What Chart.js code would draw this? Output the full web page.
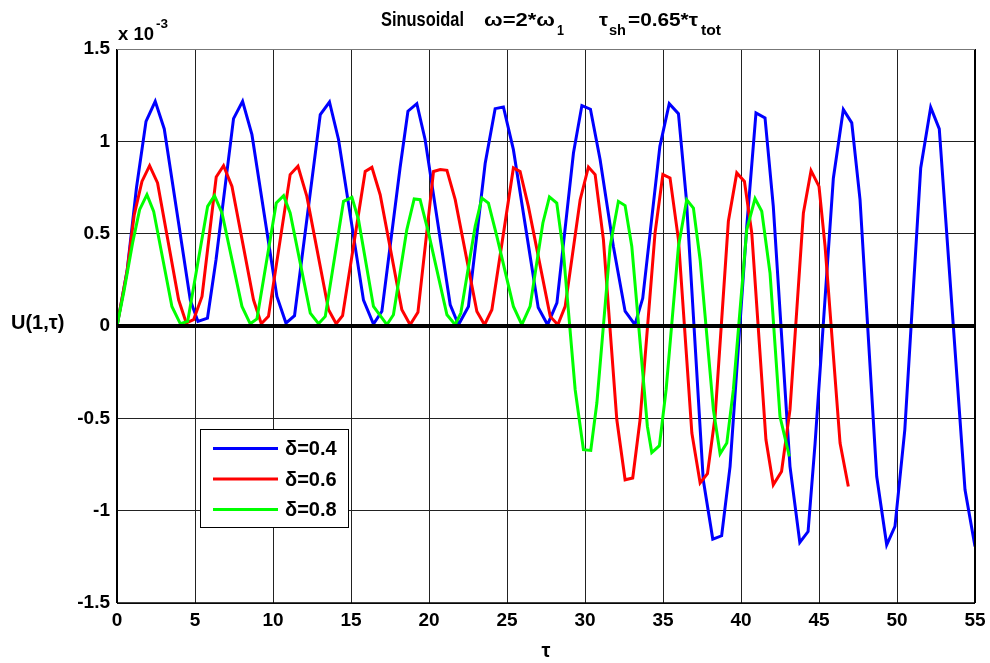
<!DOCTYPE html>
<html>
<head>
<meta charset="utf-8">
<title>Sinusoidal</title>
<script src="https://cdn.jsdelivr.net/npm/chart.js@4.4.1/dist/chart.umd.min.js"></script>
<style>
  html, body { margin: 0; padding: 0; background: #fff; }
  canvas { display: block; }
</style>
</head>
<body>
<canvas id="myChart" width="990" height="663"></canvas>
<script>
// values, U in units of 1e-3
const tauBlue = [0, 0.65, 1.25, 1.86, 2.45, 3.03, 4.7, 5.19, 5.8, 6.35, 7.47, 8.05, 8.65,
  10.25, 10.83, 11.38, 13.03, 13.62, 14.2, 15.8, 16.44, 16.98, 18.15, 18.65, 19.22, 19.75,
  21.36, 21.89, 22.53, 23.6, 24.24, 24.77, 25.41, 27.0, 27.6, 28.2, 29.26, 29.8, 30.35, 30.97,
  31.82, 32.57, 33.2, 33.7, 34.8, 35.4, 35.99, 36.5, 37.58, 38.19, 38.76, 39.3, 40.37, 40.96,
  41.54, 42.07, 43.14, 43.77, 44.3, 44.75, 45.92, 46.56, 47.1, 47.63, 48.7, 49.34, 49.87,
  50.5, 51.52, 52.16, 52.71, 54.36, 55.0];
const uBlue = [0, 0.3, 0.75, 1.108, 1.217, 1.067, 0.14, 0.025, 0.043, 0.36, 1.123, 1.217, 1.036,
  0.16, 0.016, 0.056, 1.145, 1.213, 1.01, 0.14, 0.01, 0.08, 0.86, 1.163, 1.204, 1.01,
  0.115, 0.007, 0.106, 0.88, 1.177, 1.186, 0.955, 0.1, 0.007, 0.125, 0.937, 1.194, 1.174, 0.9,
  0.43, 0.08, 0.007, 0.15, 0.973, 1.204, 1.15, 0.684, -0.833, -1.154, -1.136, -0.76, 0.54, 1.154,
  1.127, 0.648, -0.76, -1.172, -1.113, -0.634, 0.8, 1.172, 1.1, 0.684, -0.815, -1.185, -1.085,
  -0.562, 0.856, 1.184, 1.067, -0.887, -1.194];

const tauRed = [0, 0.65, 1.1, 1.6, 2.09, 2.6, 3.95, 4.44, 4.91, 5.45, 6.36, 6.83, 7.37,
  8.75, 9.25, 9.71, 11.1, 11.6, 12.17, 13.56, 14.05, 14.46, 15.91, 16.34, 16.87,
  18.26, 18.79, 19.29, 20.29, 20.72, 21.15, 21.68, 23.07, 23.56, 24.03, 25.41, 25.84, 26.37,
  27.77, 28.26, 28.73, 29.69, 30.22, 30.65, 31.18, 32.04, 32.57, 33.06, 33.53, 34.49, 34.99,
  35.45, 35.99, 36.85, 37.38, 37.85, 38.34, 39.19, 39.73, 40.22, 40.69, 41.6, 42.07, 42.6,
  43.14, 44.0, 44.49, 45.0, 45.39, 46.35, 46.88];
const uRed = [0, 0.3, 0.6, 0.783, 0.868, 0.775, 0.142, 0.016, 0.034, 0.16, 0.807, 0.868, 0.756,
  0.142, 0.012, 0.052, 0.82, 0.865, 0.702, 0.088, 0.012, 0.056, 0.837, 0.859, 0.711,
  0.088, 0.007, 0.074, 0.837, 0.847, 0.843, 0.684, 0.079, 0.007, 0.088, 0.856, 0.837, 0.648,
  0.052, 0.007, 0.106, 0.684, 0.861, 0.82, 0.468, -0.508, -0.833, -0.823, -0.508, 0.504, 0.82,
  0.802, 0.468, -0.58, -0.85, -0.8, -0.49, 0.567, 0.829, 0.783, 0.504, -0.616, -0.86, -0.788,
  -0.453, 0.612, 0.841, 0.756, 0.431, -0.634, -0.869];

const tauGreen = [0, 0.45, 1.0, 1.45, 1.92, 2.35, 3.52, 4.06, 4.53, 5.81, 6.25, 6.73,
  8.01, 8.54, 8.97, 10.21, 10.68, 11.1, 12.39, 12.92, 13.35, 14.52, 15.06, 15.48,
  16.44, 17.3, 17.72, 18.58, 19.05, 19.43, 19.97, 21.15, 21.68, 22.04, 22.96, 23.39, 23.81,
  24.35, 25.41, 25.95, 26.48, 27.3, 27.72, 28.19, 28.62, 29.37, 29.9, 30.37, 30.76, 31.61,
  32.14, 32.57, 33.0, 34.0, 34.28, 34.77, 35.2, 35.99, 36.52, 36.95, 37.38, 38.23, 38.66,
  39.09, 39.51, 40.37, 40.9, 41.33, 41.86, 42.5, 43.1];
const uGreen = [0, 0.19, 0.45, 0.63, 0.711, 0.621, 0.106, 0.012, 0.025, 0.648, 0.706, 0.612,
  0.106, 0.012, 0.038, 0.666, 0.706, 0.612, 0.07, 0.012, 0.052, 0.675, 0.697, 0.576,
  0.106, 0.007, 0.061, 0.522, 0.688, 0.684, 0.504, 0.061, 0.007, 0.07, 0.54, 0.693, 0.666,
  0.485, 0.106, 0.007, 0.106, 0.558, 0.699, 0.666, 0.395, -0.345, -0.67, -0.674, -0.417, 0.431,
  0.675, 0.652, 0.431, -0.544, -0.685, -0.648, -0.345, 0.431, 0.684, 0.639, 0.359, -0.453, -0.692,
  -0.634, -0.345, 0.522, 0.69, 0.621, 0.287, -0.49, -0.706];

const seriesLabels = ["δ=0.4", "δ=0.6", "δ=0.8"];
const seriesColors = ["#0000ff", "#ff0000", "#00ff00"];
const xRange = [0, 55];
const yRange = [-1.5, 1.5];

const FONT = "'Liberation Sans', Arial, Helvetica, sans-serif";

// pair up tau and U values
function toPoints(xs, ys) {
  return xs.map((x, i) => ({ x: x, y: ys[i] }));
}

// text squeezed or stretched to a given width (matlab text is narrow)
function fitText(ctx, text, x, y, width, size) {
  ctx.font = "bold " + size + "px " + FONT;
  let w = ctx.measureText(text).width;
  ctx.save();
  ctx.translate(x, y);
  ctx.scale(width / w, 1);
  ctx.fillText(text, 0, 0);
  ctx.restore();
}

// titles, zero line, box and legend
const decorations = {
  id: "decorations",
  afterDatasetsDraw(chart) {
    const ctx = chart.ctx, a = chart.chartArea;
    const y0 = chart.scales.y.getPixelForValue(0);
    ctx.save();
    ctx.strokeStyle = "#000";
    ctx.lineWidth = 4;
    ctx.beginPath();
    ctx.moveTo(a.left, y0);
    ctx.lineTo(a.right, y0);
    ctx.stroke();
    ctx.restore();
  },
  afterDraw(chart) {
    const ctx = chart.ctx, a = chart.chartArea;
    ctx.save();

    // axes box
    ctx.strokeStyle = "#000";
    ctx.lineWidth = 2;
    ctx.beginPath();
    ctx.moveTo(a.left, a.top); ctx.lineTo(a.left, a.bottom);
    ctx.moveTo(a.right, a.top); ctx.lineTo(a.right, a.bottom);
    ctx.stroke();
    ctx.lineWidth = 1.5;
    ctx.beginPath();
    ctx.moveTo(a.left, a.bottom); ctx.lineTo(a.right, a.bottom);
    ctx.stroke();
    ctx.strokeStyle = "#777";
    ctx.lineWidth = 1;
    ctx.beginPath();
    ctx.moveTo(a.left, a.top + 0.5); ctx.lineTo(a.right, a.top + 0.5);
    ctx.stroke();

    ctx.fillStyle = "#000";
    ctx.textBaseline = "alphabetic";
    ctx.textAlign = "left";

    // title, pieces placed like the matlab tex output
    fitText(ctx, "Sinusoidal", 381, 26, 83, 20);
    fitText(ctx, "ω=2*ω", 484, 26, 71, 19);
    fitText(ctx, "1", 557, 35, 7, 14);
    fitText(ctx, "τ", 599, 26, 9, 19);
    fitText(ctx, "sh", 609, 35, 17, 14);
    fitText(ctx, "=0.65*τ", 628, 26, 70, 19);
    fitText(ctx, "tot", 701, 35, 20, 14);

    // exponent above the y axis
    fitText(ctx, "x 10", 118, 40, 36, 18);
    fitText(ctx, "-3", 156, 28, 12, 13);

    // axis labels
    ctx.font = "bold 20px " + FONT;
    ctx.fillText("U(1,τ)", 11, 329);
    ctx.textAlign = "center";
    ctx.font = "bold 20px " + FONT;
    ctx.fillText("τ", (a.left + a.right) / 2, 657);

    // legend
    let lx = 200.5, ly = 429.5, lw = 148, lh = 98;
    ctx.fillStyle = "#fff";
    ctx.fillRect(lx, ly, lw, lh);
    ctx.strokeStyle = "#000";
    ctx.lineWidth = 1;
    ctx.strokeRect(lx, ly, lw, lh);
    ctx.textAlign = "left";
    ctx.textBaseline = "middle";
    ctx.font = "bold 20px " + FONT;
    chart.data.datasets.forEach((ds, i) => {
      let yy = 448.5 + i * 30.5;
      ctx.strokeStyle = ds.borderColor;
      ctx.lineWidth = 3;
      ctx.beginPath();
      ctx.moveTo(213, yy);
      ctx.lineTo(278, yy);
      ctx.stroke();
      ctx.fillStyle = "#000";
      ctx.fillText(ds.label, 285, yy + 1);
    });
    ctx.restore();
  }
};

let ctx = document.getElementById("myChart").getContext("2d");
let myChart = new Chart(ctx, {
  type: "line",
  data: {
    datasets: [
      { label: seriesLabels[0], data: toPoints(tauBlue, uBlue), borderColor: seriesColors[0], order: 3 },
      { label: seriesLabels[1], data: toPoints(tauRed, uRed), borderColor: seriesColors[1], order: 2 },
      { label: seriesLabels[2], data: toPoints(tauGreen, uGreen), borderColor: seriesColors[2], order: 1 }
    ]
  },
  options: {
    responsive: false,
    animation: false,
    devicePixelRatio: 1,
    layout: { padding: { left: 0, right: 15, top: 49, bottom: 0 } },
    elements: {
      line: { borderWidth: 3, tension: 0, fill: false, borderJoinStyle: "miter" },
      point: { radius: 0 }
    },
    plugins: {
      legend: { display: false },
      tooltip: { enabled: false }
    },
    scales: {
      x: {
        type: "linear",
        min: xRange[0],
        max: xRange[1],
        border: { display: false },
        grid: { color: "#222", lineWidth: 1, drawTicks: false, tickLength: 0 },
        ticks: {
          stepSize: 5,
          padding: 6,
          color: "#000",
          font: { family: FONT, size: 19, weight: "bold" },
          maxRotation: 0
        },
        afterFit(scale) {
          scale.height = 60;
          scale.paddingLeft = 0;
          scale.paddingRight = 0;
        }
      },
      y: {
        type: "linear",
        min: yRange[0],
        max: yRange[1],
        border: { display: false },
        grid: { color: "#222", lineWidth: 1, drawTicks: false, tickLength: 0 },
        ticks: {
          stepSize: 0.5,
          padding: 7,
          color: "#000",
          font: { family: FONT, size: 19, weight: "bold" },
          callback: value => String(value)
        },
        afterFit(scale) {
          scale.width = 117;
          scale.paddingTop = 0;
          scale.paddingBottom = 0;
        }
      }
    }
  },
  plugins: [decorations]
});
</script>
</body>
</html>
